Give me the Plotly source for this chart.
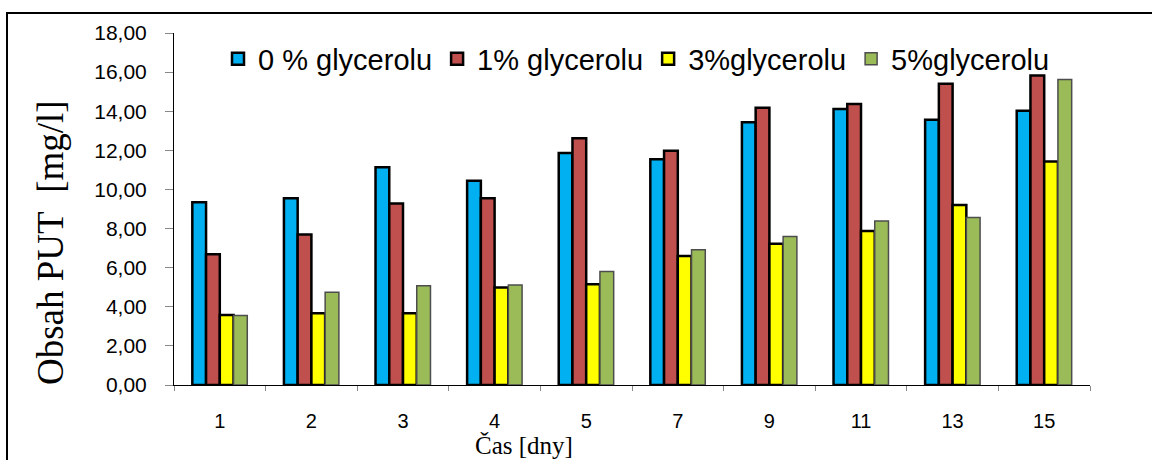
import plotly.graph_objects as go

categories = ["1", "2", "3", "4", "5", "7", "9", "11", "13", "15"]
series_names = ["0 % glycerolu", "1% glycerolu", "3%glycerolu", "5%glycerolu"]
glyc0 = [9.35, 9.55, 11.14, 10.44, 11.86, 11.55, 13.44, 14.11, 13.56, 14.02]
glyc1 = [6.69, 7.69, 9.28, 9.55, 12.62, 11.98, 14.18, 14.37, 15.40, 15.83]
glyc3 = [3.58, 3.67, 3.67, 4.98, 5.15, 6.60, 7.22, 7.88, 9.20, 11.43]
glyc5 = [3.55, 4.74, 5.08, 5.12, 5.80, 6.91, 7.59, 8.39, 8.56, 15.62]
y_ticks = [0, 2, 4, 6, 8, 10, 12, 14, 16, 18]
x_title = "Čas [dny]"
y_title = "Obsah PUT\u00a0 [mg/l]"

colors = ["#00B0F0", "#C0504D", "#FFFF00", "#9BBB59"]
outlines = [("black", 2.5), ("black", 2.5), ("black", 2.5), ("#4d4d4d", 1.5)]

fig = go.Figure()
for name, vals, col, (lc, lw) in zip(series_names, [glyc0, glyc1, glyc3, glyc5], colors, outlines):
    fig.add_trace(go.Bar(
        x=categories, y=vals, name=name,
        marker=dict(color=col, line=dict(color=lc, width=lw)),
    ))

W, H = 1152, 460
L, R, T, B = 174, 62, 33, 75
pw, ph = W - L - R, H - T - B

def px_x(p):
    return (p - L) / pw

def px_y(p):
    return (H - B - p) / ph

fig.update_layout(
    width=W, height=H,
    margin=dict(l=L, r=R, t=T, b=B),
    paper_bgcolor="white", plot_bgcolor="white",
    barmode="group", bargap=0.4, bargroupgap=0,
    separators=",.",
    font=dict(family="Liberation Sans, Arial", color="black"),
    showlegend=True,
    legend=dict(
        orientation="h", x=px_x(218), y=px_y(59), xanchor="left", yanchor="middle",
        font=dict(size=29, family="Liberation Sans, Arial"),
        bgcolor="rgba(0,0,0,0)", itemwidth=30, tracegroupgap=0,
    ),
    xaxis=dict(
        type="category",
        showline=True, linecolor="black", linewidth=1,
        ticks="outside", tickson="boundaries", ticklen=5, tickcolor="#888888",
        tickfont=dict(size=20, family="Liberation Sans, Arial"),
        ticklabelstandoff=18,
        showgrid=False,
    ),
    yaxis=dict(
        range=[0, 18], tickvals=y_ticks, tickformat=".2f",
        showline=True, linecolor="black", linewidth=1,
        ticks="outside", ticklen=8, tickcolor="#888888",
        tickfont=dict(size=21, family="Liberation Sans, Arial"),
        ticklabelstandoff=14,
        showgrid=False, zeroline=False,
    ),
    annotations=[
        dict(text=x_title, xref="paper", yref="paper", x=px_x(524), y=px_y(445),
             xanchor="center", yanchor="middle", showarrow=False,
             font=dict(size=25, family="Liberation Serif, Times New Roman")),
        dict(text=y_title, xref="paper", yref="paper", x=px_x(50), y=px_y(242),
             xanchor="center", yanchor="middle", showarrow=False, textangle=-90,
             font=dict(size=37, family="Liberation Serif, Times New Roman")),
    ],
    shapes=[dict(
        type="rect", xref="paper", yref="paper",
        x0=px_x(7), x1=px_x(1170), y0=px_y(480), y1=px_y(13),
        line=dict(color="black", width=2), fillcolor="rgba(0,0,0,0)",
    )],
)

fig.write_html("out.html")
